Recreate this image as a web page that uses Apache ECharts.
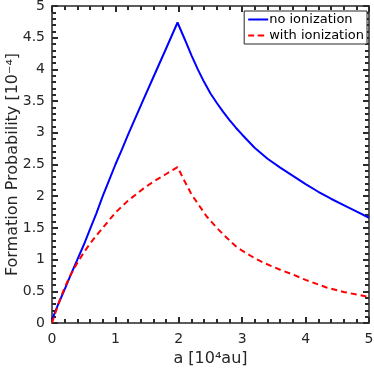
<!DOCTYPE html>
<html><head><meta charset="utf-8">
<script src="https://cdn.jsdelivr.net/npm/echarts@6/dist/echarts.min.js"></script>
<style>html,body{margin:0;padding:0;background:#fff}#c{width:374px;height:369px}</style>
</head><body><div id="c"></div>
<script>
var seriesNames = ['no ionization', 'with ionization'];
var blueX = [0,0.1,0.2,0.3,0.4,0.5,0.6,0.7,0.8,0.9,1.0,1.1,1.2,1.3,1.44,1.6,1.8,1.98,2.1,2.2,2.3,2.4,2.5,2.6,2.7,2.8,2.9,3.0,3.2,3.4,3.6,3.8,4.0,4.2,4.4,4.6,4.8,5.0];
var blueY = [0.05,0.30,0.53,0.77,1.00,1.23,1.48,1.73,2.00,2.25,2.50,2.73,2.97,3.20,3.52,3.88,4.33,4.74,4.46,4.22,4.00,3.80,3.62,3.47,3.33,3.20,3.08,2.97,2.76,2.59,2.45,2.32,2.19,2.07,1.96,1.86,1.76,1.66];
var redX = [0,0.1,0.2,0.3,0.4,0.5,0.6,0.7,0.8,0.9,1.0,1.2,1.44,1.6,1.8,1.98,2.1,2.2,2.44,2.6,2.76,2.9,3.0,3.2,3.36,3.6,3.81,4.0,4.33,4.6,5.0];
var redY = [0,0.30,0.56,0.77,0.95,1.11,1.25,1.38,1.50,1.62,1.74,1.93,2.12,2.23,2.35,2.46,2.22,2.03,1.68,1.50,1.34,1.21,1.14,1.02,0.94,0.84,0.76,0.68,0.56,0.49,0.41];
var xTicks = [0,1,2,3,4,5];
var yTicks = [0,0.5,1,1.5,2,2.5,3,3.5,4,4.5,5];

function pairs(xs, ys){ return xs.map(function(x,i){ return [x, ys[i]]; }); }
var ax = '#262626';
var tk = '#2a2a2a';
var font = 'DejaVu Sans';
function baseAxis(extra){
  var a = {
    type:'value', min:0, max:5,
    axisLine:{show:true, onZero:false, lineStyle:{color:ax, width:1.5}},
    axisTick:{show:true, inside:true, length:6, lineStyle:{color:tk, width:2}},
    minorTick:{show:true, splitNumber:5, length:4, lineStyle:{color:tk, width:2}},
    splitLine:{show:false},
    minorSplitLine:{show:false},
    axisLabel:{color:ax, fontFamily:font, fontSize:14},
    nameTextStyle:{color:ax, fontFamily:font, fontSize:16},
    nameMoveOverlap:false
  };
  for (var k in extra) a[k] = extra[k];
  return a;
}
var chart = echarts.init(document.getElementById('c'), null, {renderer:'canvas'});
chart.setOption({
  animation:false,
  textStyle:{fontFamily:font},
  grid:{left:52, right:5, top:6, bottom:46, containLabel:false, outerBoundsMode:'none'},
  legend:{
    data:seriesNames, orient:'vertical', right:7, top:11,
    itemWidth:20, itemHeight:2, itemGap:3,
    padding:[2,3,2,3],
    borderColor:ax, borderWidth:1, backgroundColor:'#fff',
    textStyle:{color:'#000', fontFamily:font, fontSize:13, padding:[0,0,0,-4]}
  },
  xAxis:[
    baseAxis({position:'bottom', interval:1, name:'a [10⁴au]', nameLocation:'middle', nameGap:28,
      axisLabel:{show:true, color:ax, fontFamily:font, fontSize:14, margin:9, formatter:function(v){return xTicks.indexOf(v)>=0?String(v):'';}}}),
    baseAxis({position:'top', interval:1, axisLabel:{show:false}})
  ],
  yAxis:[
    baseAxis({position:'left', interval:0.5, name:'Formation Probability [10⁻⁴]', nameLocation:'middle', nameGap:31, nameRotate:90,
      axisLabel:{show:true, color:ax, fontFamily:font, fontSize:14, margin:7, formatter:function(v){return yTicks.indexOf(v)>=0?String(v):'';}}}),
    baseAxis({position:'right', interval:0.5, axisLabel:{show:false}})
  ],
  series:[
    {name:seriesNames[0], type:'line', data:pairs(blueX, blueY), showSymbol:false, symbol:'none', smooth:false,
      lineStyle:{color:'#0000ff', width:2}, itemStyle:{color:'#0000ff'}},
    {name:seriesNames[1], type:'line', data:pairs(redX, redY), showSymbol:false, symbol:'none', smooth:false,
      lineStyle:{color:'#ff0000', width:2, type:[6,4]}, itemStyle:{color:'#ff0000'}}
  ]
});
</script></body></html>
